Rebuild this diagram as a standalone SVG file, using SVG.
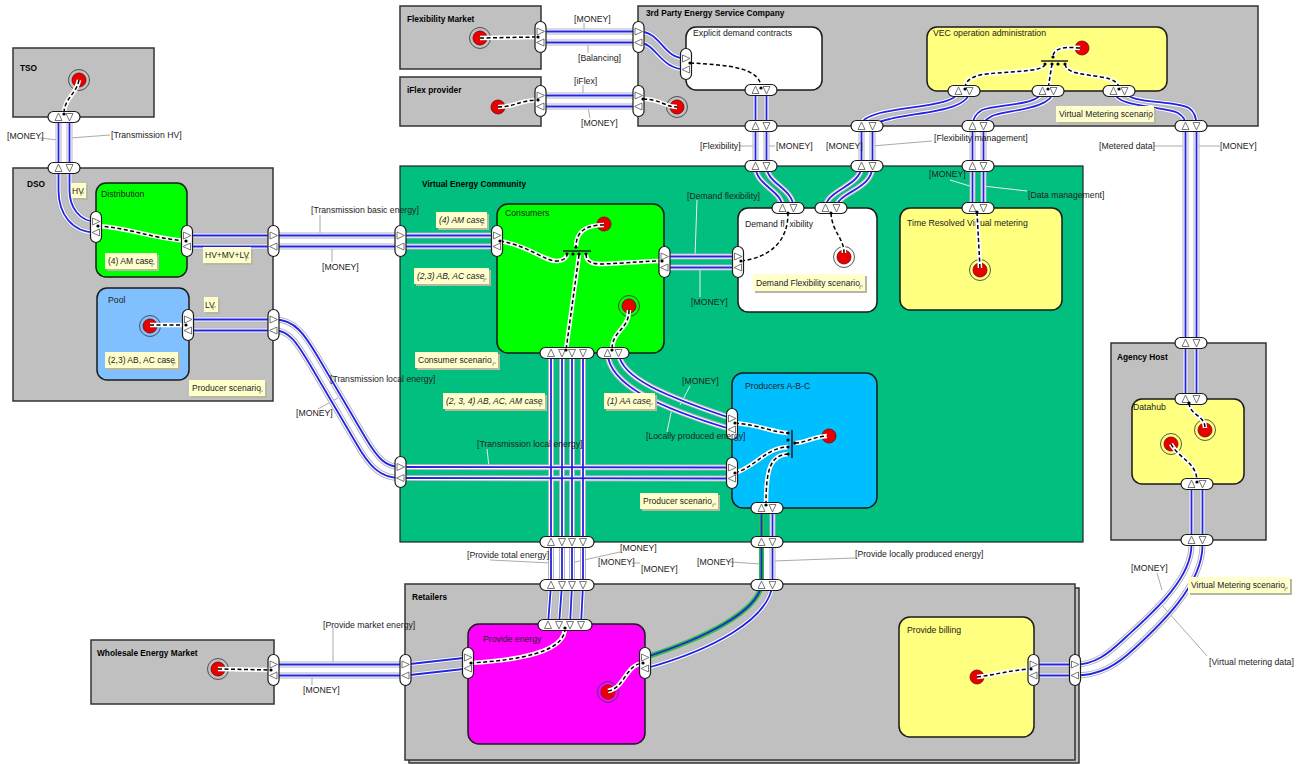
<svg xmlns="http://www.w3.org/2000/svg" width="1300" height="764" viewBox="0 0 1300 764">
<style>
text{font-family:"Liberation Sans",Arial,sans-serif;font-size:8.7px;fill:#222}
.t{font-weight:bold;font-size:8.3px;fill:#000}
.nt{font-size:8.5px}
.i{font-style:italic}
.box{fill:#c0c0c0;stroke:#333;stroke-width:1.5}
.nd{stroke:#1a1a1a;stroke-width:1.5}
.port{fill:#fff;stroke:#1a1a1a;stroke-width:1.2}
.tri{fill:#fff;stroke:#555;stroke-width:.8}
.ho{fill:none;stroke:#b4b4c8;stroke-width:6}
.hw{fill:none;stroke:#fff;stroke-width:4}
.fl{fill:none;stroke:#2424e0;stroke-width:1.8}
.gh{fill:none;stroke:#2fbf3f;stroke-width:5}
.dh{fill:none;stroke:#fff;stroke-width:4.5}
.dl{fill:none;stroke:#000;stroke-width:1.5;stroke-dasharray:4 2.5}
.ld{fill:none;stroke:#aaa;stroke-width:1}
.lw{fill:none;stroke:#eee;stroke-width:1}
.note{fill:#ffffcc}
.nsh{fill:#b8b8a0}
.nc{fill:none;stroke:#888;stroke-width:.8}
.red{fill:#e80000;stroke:#700;stroke-width:.8}
.ring{fill:none;stroke:#444;stroke-width:.9}
.bar{stroke:#222;stroke-width:1.6}
</style>
<defs>
<path id="aR" class="tri" d="M-3.5,-3.5 L4,0 L-3.5,3.5Z"/>
<path id="aL" class="tri" d="M3.5,-3.5 L-4,0 L3.5,3.5Z"/>
<path id="aU" class="tri" d="M-3.5,3.5 L0,-4 L3.5,3.5Z"/>
<path id="aD" class="tri" d="M-3.5,-3.5 L0,4 L3.5,-3.5Z"/>
<path id="c1" d="M58.5,117 L58.5,190 C58.5,214 72,232.5 96,232.5"/>
<path id="c2" d="M69.5,117 L69.5,190 C69.5,208 80,221.5 96,221.5"/>
<path id="c3" d="M187,235.5 L497,235.5"/>
<path id="c4" d="M187,246.5 L497,246.5"/>
<path id="c5" d="M188,319.5 L275,319.5 C295,319.5 305,335 318,357 L365,437 C378,459 386,467 400,467 L732,467.5"/>
<path id="c6" d="M188,330.5 L275,330.5 C290,330.5 298,345 309,363 L356,443 C369,466 380,478 400,478 L732,478.5"/>
<path id="c8" d="M607.5,353 C609,385 660,408 732,429.5"/>
<path id="c9" d="M618.5,353 C621,378 665,396 732,418.5"/>
<path id="c10a" d="M551,353 L551,585 L548,625"/>
<path id="c10b" d="M562,353 L562,585 L559,625"/>
<path id="c10c" d="M572,353 L572,585 L570,625"/>
<path id="c10d" d="M583,353 L583,585 L581,625"/>
<path id="c11a" d="M664.5,256.5 L738,256.5"/>
<path id="c11b" d="M664.5,267.5 L738,267.5"/>
<path id="c12" d="M761.5,508 L761.5,585 C757,612 705,638 645,657.5"/>
<path id="c13" d="M772.5,508 L772.5,585 C768,620 712,650 645,668.5"/>
<path id="c14a" d="M273.5,664.5 L405.5,664.5 L468,657.5"/>
<path id="c14b" d="M273.5,675.5 L405.5,675.5 L468,668.5"/>
<path id="c15a" d="M1191.5,484 L1191.5,545 C1191.5,580 1150,615 1125,638 C1108,654 1095,664.5 1075,664.5 L1033,664.5"/>
<path id="c15b" d="M1202.5,484 L1202.5,545 C1202.5,585 1160,625 1135,648 C1117,665 1100,675.5 1075,675.5 L1033,675.5"/>
<path id="c16a" d="M1185.5,126 L1185.5,399"/>
<path id="c16b" d="M1196.5,126 L1196.5,399"/>
<path id="c17a" d="M1113.5,91 C1115,108 1165,106 1178,113 C1184,117 1185.5,120 1185.5,126"/>
<path id="c17b" d="M1124.5,91 C1126,104 1175,100 1189,108 C1195,112 1196.5,118 1196.5,126"/>
<path id="c18a" d="M1042.5,91 C1041,106 995,104 982,110 C975,114 972.5,119 972.5,126 L972.5,208"/>
<path id="c18b" d="M1053.5,91 C1052,110 1005,110 992,116 C985,120 983.5,122 983.5,126 L983.5,208"/>
<path id="c19a" d="M958.5,91 C958,106 905,106 880,113 C866,117 861.5,120 861.5,126 L861.5,166 C861.5,186 825.5,190 825.5,208"/>
<path id="c19b" d="M969.5,91 C969,112 915,112 890,119 C876,122 872.5,125 872.5,130 L872.5,166 C872.5,190 836.5,192 836.5,208"/>
<path id="c20a" d="M755.5,90 L755.5,166 C755.5,186 782.5,190 782.5,208"/>
<path id="c20b" d="M766.5,90 L766.5,166 C766.5,184 793.5,188 793.5,208"/>
<path id="c21a" d="M540.5,31.5 L638.5,31.5 C662,31.5 662,58.5 686,58.5"/>
<path id="c21b" d="M540.5,42.5 L638.5,42.5 C656,42.5 660,69.5 686,69.5"/>
<path id="c22a" d="M540.5,95.5 L638.5,95.5"/>
<path id="c22b" d="M540.5,106.5 L638.5,106.5"/>
<path id="d1" d="M79,80 C76,95 64,98 64,114"/>
<path id="d2" d="M98,226 C130,228 150,238 186,241"/>
<path id="d3" d="M150,325 L186,325"/>
<path id="d4" d="M604,225 C585,225 576,232 576,247"/>
<path id="d5" d="M500,241 C530,246 545,262 558,261 C565,260 567,257 567,254"/>
<path id="d6" d="M586,254 C586,262 592,264 602,264 C630,263 645,261 662,261"/>
<path id="d7" d="M579,255 L566,350"/>
<path id="d8" d="M629,310 C629,330 612,330 612,350"/>
<path id="d9" d="M741,261 C772,257 788,240 788,213"/>
<path id="d10" d="M831,213 C832,232 844,238 844,253"/>
<path id="d11" d="M735,423 C760,425 775,433 788,433"/>
<path id="d12" d="M735,473 C757,466 765,448 788,447"/>
<path id="d13" d="M766,505 C766,470 770,455 788,454"/>
<path id="d14" d="M795,443 C805,443 812,437 827,436"/>
<path id="d15" d="M565,628 C565,652 520,660 471,663"/>
<path id="d16" d="M608,691 C625,688 625,665 643,663"/>
<path id="d17" d="M218,669 L271,670"/>
<path id="d18" d="M977,677 C995,675 1010,670 1031,669"/>
<path id="d19" d="M1189,403 C1190,416 1205,415 1205,428"/>
<path id="d20" d="M1171,444 C1180,460 1197,462 1197,482"/>
<path id="d21" d="M977,212 L980,268"/>
<path id="d22" d="M1080,48 C1060,46 1053,50 1053,57"/>
<path id="d23" d="M1045,64 C1045,73 1000,71 980,75 C969,78 965,82 965,89"/>
<path id="d24" d="M1052,64 L1048,89"/>
<path id="d25" d="M1065,64 C1066,74 1085,74 1101,77 C1114,79 1119,83 1119,89"/>
<path id="d26" d="M690,63 C730,65 761,68 761,88"/>
<path id="d27" d="M480,38 L538,37"/>
<path id="d28" d="M498,107 C515,107 520,100 538,100"/>
<path id="d29" d="M643,99 C660,99 665,107 677,107"/>
</defs>
<rect width="1300" height="764" fill="#fff"/>

<!-- containers -->
<g id="tso"><rect class="box" x="13" y="48" width="141" height="69"/><text class="t" x="20" y="71">TSO</text>
<circle class="ring" cx="79" cy="80" r="10.5"/><circle class="red" cx="79" cy="80" r="7"/></g>
<g id="dso"><rect class="box" x="13" y="168" width="260" height="233"/><text class="t" x="27" y="187">DSO</text></g>
<g id="distribution"><rect class="nd" x="96" y="183" width="91" height="94" rx="10" fill="#00ff00"/><text x="101" y="197">Distribution</text></g>
<g id="pool"><rect class="nd" x="97" y="288" width="92" height="92" rx="10" fill="#80c0ff"/><text x="108" y="303">Pool</text>
<circle class="ring" cx="150" cy="326" r="10.5"/><circle class="red" cx="150" cy="326" r="7"/></g>
<g id="flexmarket"><rect class="box" x="400" y="6" width="141" height="63"/><text class="t" x="407" y="22">Flexibility Market</text>
<circle class="ring" cx="480" cy="38" r="10.5"/><circle class="red" cx="480" cy="38" r="7"/></g>
<g id="iflex"><rect class="box" x="400" y="77" width="141" height="49"/><text class="t" x="407" y="93">iFlex provider</text>
<circle class="red" cx="498" cy="107" r="7"/></g>
<g id="esco"><rect class="box" x="638" y="6" width="620" height="120"/><text class="t" x="646" y="16">3rd Party Energy Service Company</text>
<circle class="ring" cx="677" cy="107" r="10.5"/><circle class="red" cx="677" cy="107" r="7"/></g>
<g id="explicit"><rect class="nd" x="686" y="27" width="136" height="63" rx="10" fill="#fff"/><text x="693" y="36">Explicit demand contracts</text></g>
<g id="vecop"><rect class="nd" x="927" y="27" width="240" height="64" rx="10" fill="#ffff80"/><text x="933" y="36">VEC operation administration</text>
<circle class="red" cx="1082" cy="48" r="7"/></g>
<g id="vec"><rect x="400" y="166" width="683" height="376" fill="#00bf7f" stroke="#222" stroke-width="1.2"/><text class="t" x="422" y="187">Virtual Energy Community</text></g>
<g id="consumers"><rect class="nd" x="497" y="204" width="167" height="149" rx="11" fill="#00ff00"/><text x="505" y="216">Consumers</text>
<circle class="red" cx="604" cy="224" r="7"/><circle class="ring" cx="629" cy="306" r="10.5"/><circle class="red" cx="629" cy="306" r="7"/></g>
<g id="demandflex"><rect class="nd" x="738" y="208" width="139" height="104" rx="10" fill="#fff"/><text x="745" y="227">Demand flexibility</text>
<circle class="ring" cx="844" cy="257" r="10.5"/><circle class="red" cx="844" cy="257" r="7"/></g>
<g id="trvm"><rect class="nd" x="900" y="208" width="162" height="102" rx="10" fill="#ffff80"/><text x="907" y="226">Time Resolved Virtual metering</text>
<circle class="ring" cx="980" cy="270" r="10.5"/><circle class="red" cx="980" cy="270" r="7"/></g>
<g id="producers"><rect class="nd" x="732" y="373" width="145" height="135" rx="11" fill="#00bfff"/><text x="745" y="389">Producers A-B-C</text>
<circle class="red" cx="829" cy="436" r="7"/></g>
<g id="agency"><rect class="box" x="1111" y="343" width="155" height="197"/><text class="t" x="1117" y="360">Agency Host</text></g>
<g id="datahub"><rect class="nd" x="1132" y="399" width="112" height="85" rx="10" fill="#ffff80"/><text x="1133" y="410">Datahub</text>
<circle class="ring" cx="1205" cy="430" r="10.5"/><circle class="red" cx="1205" cy="430" r="7"/>
<circle class="ring" cx="1171" cy="444" r="10.5"/><circle class="red" cx="1171" cy="444" r="7"/></g>
<g id="retailers"><rect class="box" x="409" y="588" width="670" height="175"/><rect class="box" x="405" y="584" width="670" height="176"/><text class="t" x="412" y="600">Retailers</text></g>
<g id="provenergy"><rect class="nd" x="468" y="624" width="177" height="120" rx="11" fill="#ff00ff"/><text x="483" y="642">Provide energy</text>
<circle class="ring" cx="608" cy="692" r="10.5"/><circle class="red" cx="608" cy="692" r="7"/></g>
<g id="billing"><rect class="nd" x="899" y="617" width="135" height="120" rx="11" fill="#ffff80"/><text x="907" y="633">Provide billing</text>
<circle class="red" cx="977" cy="677" r="7"/></g>
<g id="wholesale"><rect class="box" x="91" y="640" width="183" height="64"/><text class="t" x="97" y="656">Wholesale Energy Market</text>
<circle class="ring" cx="218" cy="669" r="10.5"/><circle class="red" cx="218" cy="669" r="7"/></g>

<!-- leader lines -->
<g id="leaders">
<path class="ld" d="M40,138 L58,140 M70,138 L110,135 M320,215 L320,235 M332,262 L332,247 M318,409 L338,398 M584,23 L584,31 M588,53 L588,43 M583,85 L583,95 M590,118 L588,107 M739,146 L755,146 M767,146 L775,146 M932,141 L872,146 M1154,146 L1185,146 M1197,146 L1220,146 M490,560 L551,563 M620,552 L575,562 M632,563 L640,563 M730,562 L761,564 M773,561 L855,558 M333,628 L333,664 M312,685 L312,676 M1157,573 L1162,590 M1207,656 L1160,603"/>
<path class="lw" d="M950,180 L973,187 M1027,191 L983,186 M697,200 L695,256 M700,297 L700,268 M690,386 L680,405 M667,432 L672,408 M487,449 L489,467"/>
</g>

<g id="connectors">
<g class="ho"><use href="#c1"/><use href="#c2"/><use href="#c3"/><use href="#c4"/><use href="#c5"/><use href="#c6"/><use href="#c8"/><use href="#c9"/><use href="#c10a"/><use href="#c10b"/><use href="#c10c"/><use href="#c10d"/><use href="#c11a"/><use href="#c11b"/><use href="#c13"/><use href="#c14a"/><use href="#c14b"/><use href="#c15a"/><use href="#c15b"/><use href="#c16a"/><use href="#c16b"/><use href="#c17a"/><use href="#c17b"/><use href="#c18a"/><use href="#c18b"/><use href="#c19a"/><use href="#c19b"/><use href="#c20a"/><use href="#c20b"/><use href="#c21a"/><use href="#c21b"/><use href="#c22a"/><use href="#c22b"/></g>
<g class="hw"><use href="#c1"/><use href="#c2"/><use href="#c3"/><use href="#c4"/><use href="#c5"/><use href="#c6"/><use href="#c8"/><use href="#c9"/><use href="#c10a"/><use href="#c10b"/><use href="#c10c"/><use href="#c10d"/><use href="#c11a"/><use href="#c11b"/><use href="#c13"/><use href="#c14a"/><use href="#c14b"/><use href="#c15a"/><use href="#c15b"/><use href="#c16a"/><use href="#c16b"/><use href="#c17a"/><use href="#c17b"/><use href="#c18a"/><use href="#c18b"/><use href="#c19a"/><use href="#c19b"/><use href="#c20a"/><use href="#c20b"/><use href="#c21a"/><use href="#c21b"/><use href="#c22a"/><use href="#c22b"/></g>
<g class="gh"><use href="#c12"/></g>
<g class="fl"><use href="#c1"/><use href="#c2"/><use href="#c3"/><use href="#c4"/><use href="#c5"/><use href="#c6"/><use href="#c8"/><use href="#c9"/><use href="#c10a"/><use href="#c10b"/><use href="#c10c"/><use href="#c10d"/><use href="#c11a"/><use href="#c11b"/><use href="#c12"/><use href="#c13"/><use href="#c14a"/><use href="#c14b"/><use href="#c15a"/><use href="#c15b"/><use href="#c16a"/><use href="#c16b"/><use href="#c17a"/><use href="#c17b"/><use href="#c18a"/><use href="#c18b"/><use href="#c19a"/><use href="#c19b"/><use href="#c20a"/><use href="#c20b"/><use href="#c21a"/><use href="#c21b"/><use href="#c22a"/><use href="#c22b"/></g>
<g class="dh"><use href="#d1"/><use href="#d2"/><use href="#d3"/><use href="#d4"/><use href="#d5"/><use href="#d6"/><use href="#d7"/><use href="#d8"/><use href="#d9"/><use href="#d10"/><use href="#d11"/><use href="#d12"/><use href="#d13"/><use href="#d14"/><use href="#d15"/><use href="#d16"/><use href="#d17"/><use href="#d18"/><use href="#d19"/><use href="#d20"/><use href="#d21"/><use href="#d22"/><use href="#d23"/><use href="#d24"/><use href="#d25"/><use href="#d26"/><use href="#d27"/><use href="#d28"/><use href="#d29"/></g>
<g class="dl"><use href="#d1"/><use href="#d2"/><use href="#d3"/><use href="#d4"/><use href="#d5"/><use href="#d6"/><use href="#d7"/><use href="#d8"/><use href="#d9"/><use href="#d10"/><use href="#d11"/><use href="#d12"/><use href="#d13"/><use href="#d14"/><use href="#d15"/><use href="#d16"/><use href="#d17"/><use href="#d18"/><use href="#d19"/><use href="#d20"/><use href="#d21"/><use href="#d22"/><use href="#d23"/><use href="#d24"/><use href="#d25"/><use href="#d26"/><use href="#d27"/><use href="#d28"/><use href="#d29"/></g>
</g>

<!-- junction bars -->
<g id="junctions">
<path class="bar" d="M563,251 L591,251 M792,430 L792,458 M1041,61 L1068,61"/>
<g fill="#000">
<circle cx="567" cy="254" r="1.6"/><circle cx="573" cy="254" r="1.6"/><circle cx="579" cy="254" r="1.6"/><circle cx="586" cy="254" r="1.6"/><circle cx="576" cy="247" r="1.6"/>
<circle cx="788" cy="433" r="1.6"/><circle cx="788" cy="440" r="1.6"/><circle cx="788" cy="447" r="1.6"/><circle cx="788" cy="454" r="1.6"/><circle cx="795" cy="443" r="1.6"/>
<circle cx="1045" cy="64" r="1.6"/><circle cx="1052" cy="64" r="1.6"/><circle cx="1058" cy="64" r="1.6"/><circle cx="1065" cy="64" r="1.6"/><circle cx="1053" cy="57" r="1.6"/>
</g></g>

<g id="ports">
<g class="port">
<rect x="535" y="21.5" width="11" height="31" rx="5.5"/><rect x="633" y="21.5" width="11" height="31" rx="5.5"/>
<rect x="535" y="85.5" width="11" height="31" rx="5.5"/><rect x="633" y="85.5" width="11" height="31" rx="5.5"/>
<rect x="680.5" y="48.5" width="11" height="31" rx="5.5"/>
<rect x="90.5" y="211.5" width="11" height="31" rx="5.5"/><rect x="181.5" y="225.5" width="11" height="31" rx="5.5"/>
<rect x="268" y="225.5" width="11" height="31" rx="5.5"/><rect x="395" y="225.5" width="11" height="31" rx="5.5"/>
<rect x="491.5" y="225.5" width="11" height="31" rx="5.5"/><rect x="182.5" y="309.5" width="11" height="31" rx="5.5"/>
<rect x="268" y="309.5" width="11" height="31" rx="5.5"/><rect x="395" y="456.5" width="11" height="31" rx="5.5"/>
<rect x="726.5" y="457.5" width="11" height="31" rx="5.5"/><rect x="726.5" y="408.5" width="11" height="31" rx="5.5"/>
<rect x="659" y="246.5" width="11" height="31" rx="5.5"/><rect x="732.5" y="246.5" width="11" height="31" rx="5.5"/>
<rect x="268" y="654.5" width="11" height="31" rx="5.5"/><rect x="400" y="654.5" width="11" height="31" rx="5.5"/>
<rect x="462.5" y="647.5" width="11" height="31" rx="5.5"/><rect x="639.5" y="647.5" width="11" height="31" rx="5.5"/>
<rect x="1028" y="654.5" width="11" height="31" rx="5.5"/><rect x="1069.5" y="654.5" width="11" height="31" rx="5.5"/>
<rect x="48" y="111.5" width="32" height="11" rx="5.5"/><rect x="48" y="162.5" width="32" height="11" rx="5.5"/>
<rect x="745" y="84.5" width="32" height="11" rx="5.5"/><rect x="745" y="120.5" width="32" height="11" rx="5.5"/>
<rect x="851" y="120.5" width="32" height="11" rx="5.5"/><rect x="962" y="120.5" width="32" height="11" rx="5.5"/>
<rect x="1175" y="120.5" width="32" height="11" rx="5.5"/><rect x="948" y="85.5" width="32" height="11" rx="5.5"/>
<rect x="1032" y="85.5" width="32" height="11" rx="5.5"/><rect x="1103" y="85.5" width="32" height="11" rx="5.5"/>
<rect x="745" y="160.5" width="32" height="11" rx="5.5"/><rect x="851" y="160.5" width="32" height="11" rx="5.5"/>
<rect x="962" y="160.5" width="32" height="11" rx="5.5"/><rect x="772" y="202.5" width="32" height="11" rx="5.5"/>
<rect x="815" y="202.5" width="32" height="11" rx="5.5"/><rect x="962" y="202.5" width="32" height="11" rx="5.5"/>
<rect x="1175" y="337.5" width="32" height="11" rx="5.5"/><rect x="1175" y="393.5" width="32" height="11" rx="5.5"/>
<rect x="1181" y="478.5" width="32" height="11" rx="5.5"/><rect x="1181" y="534.5" width="32" height="11" rx="5.5"/>
<rect x="751" y="502.5" width="32" height="11" rx="5.5"/><rect x="751" y="536.5" width="32" height="11" rx="5.5"/>
<rect x="751" y="579.5" width="32" height="11" rx="5.5"/><rect x="597" y="347.5" width="32" height="11" rx="5.5"/>
<rect x="540" y="347.5" width="54" height="11" rx="5.5"/><rect x="540" y="536.5" width="54" height="11" rx="5.5"/>
<rect x="540" y="579.5" width="54" height="11" rx="5.5"/><rect x="538" y="619.5" width="54" height="11" rx="5.5"/>
</g>
<use href="#aR" x="540.5" y="31.5"/><use href="#aL" x="540.5" y="42.5"/><use href="#aR" x="638.5" y="31.5"/><use href="#aL" x="638.5" y="42.5"/>
<use href="#aR" x="540.5" y="95.5"/><use href="#aL" x="540.5" y="106.5"/><use href="#aR" x="638.5" y="95.5"/><use href="#aL" x="638.5" y="106.5"/>
<use href="#aR" x="686" y="58.5"/><use href="#aL" x="686" y="69.5"/>
<use href="#aR" x="96" y="221.5"/><use href="#aL" x="96" y="232.5"/>
<use href="#aR" x="187" y="235.5"/><use href="#aL" x="187" y="246.5"/><use href="#aR" x="273.5" y="235.5"/><use href="#aL" x="273.5" y="246.5"/>
<use href="#aR" x="400.5" y="235.5"/><use href="#aL" x="400.5" y="246.5"/><use href="#aR" x="497" y="235.5"/><use href="#aL" x="497" y="246.5"/>
<use href="#aR" x="188" y="319.5"/><use href="#aL" x="188" y="330.5"/><use href="#aR" x="273.5" y="319.5"/><use href="#aL" x="273.5" y="330.5"/>
<use href="#aR" x="400.5" y="467"/><use href="#aL" x="400.5" y="478"/><use href="#aR" x="732" y="467.5"/><use href="#aL" x="732" y="478.5"/>
<use href="#aR" x="732" y="418.5"/><use href="#aL" x="732" y="429.5"/>
<use href="#aR" x="664.5" y="256.5"/><use href="#aL" x="664.5" y="267.5"/><use href="#aR" x="738" y="256.5"/><use href="#aL" x="738" y="267.5"/>
<use href="#aR" x="273.5" y="664.5"/><use href="#aL" x="273.5" y="675.5"/><use href="#aR" x="405.5" y="664.5"/><use href="#aL" x="405.5" y="675.5"/>
<use href="#aR" x="468" y="657.5"/><use href="#aL" x="468" y="668.5"/><use href="#aR" x="645" y="657.5"/><use href="#aL" x="645" y="668.5"/>
<use href="#aR" x="1033.5" y="664.5"/><use href="#aL" x="1033.5" y="675.5"/><use href="#aR" x="1075" y="664.5"/><use href="#aL" x="1075" y="675.5"/>
<use href="#aU" x="58.5" y="117"/><use href="#aD" x="69.5" y="117"/><use href="#aU" x="58.5" y="168"/><use href="#aD" x="69.5" y="168"/>
<use href="#aU" x="755.5" y="90"/><use href="#aD" x="766.5" y="90"/><use href="#aU" x="755.5" y="126"/><use href="#aD" x="766.5" y="126"/>
<use href="#aU" x="861.5" y="126"/><use href="#aD" x="872.5" y="126"/><use href="#aU" x="972.5" y="126"/><use href="#aD" x="983.5" y="126"/>
<use href="#aU" x="1185.5" y="126"/><use href="#aD" x="1196.5" y="126"/>
<use href="#aU" x="958.5" y="91"/><use href="#aD" x="969.5" y="91"/><use href="#aU" x="1042.5" y="91"/><use href="#aD" x="1053.5" y="91"/>
<use href="#aU" x="1113.5" y="91"/><use href="#aD" x="1124.5" y="91"/>
<use href="#aU" x="755.5" y="166"/><use href="#aD" x="766.5" y="166"/><use href="#aU" x="861.5" y="166"/><use href="#aD" x="872.5" y="166"/>
<use href="#aU" x="972.5" y="166"/><use href="#aD" x="983.5" y="166"/>
<use href="#aU" x="782.5" y="208"/><use href="#aD" x="793.5" y="208"/><use href="#aU" x="825.5" y="208"/><use href="#aD" x="836.5" y="208"/>
<use href="#aU" x="972.5" y="208"/><use href="#aD" x="983.5" y="208"/>
<use href="#aU" x="1185.5" y="343"/><use href="#aD" x="1196.5" y="343"/><use href="#aU" x="1185.5" y="399"/><use href="#aD" x="1196.5" y="399"/>
<use href="#aU" x="1191.5" y="484"/><use href="#aD" x="1202.5" y="484"/><use href="#aU" x="1191.5" y="540"/><use href="#aD" x="1202.5" y="540"/>
<use href="#aU" x="761.5" y="508"/><use href="#aD" x="772.5" y="508"/><use href="#aU" x="761.5" y="542"/><use href="#aD" x="772.5" y="542"/>
<use href="#aU" x="761.5" y="585"/><use href="#aD" x="772.5" y="585"/>
<use href="#aU" x="607.5" y="353"/><use href="#aD" x="618.5" y="353"/>
<use href="#aU" x="551" y="353"/><use href="#aD" x="562" y="353"/><use href="#aD" x="572" y="353"/><use href="#aD" x="583" y="353"/>
<use href="#aU" x="551" y="542"/><use href="#aD" x="562" y="542"/><use href="#aD" x="572" y="542"/><use href="#aD" x="583" y="542"/>
<use href="#aU" x="551" y="585"/><use href="#aD" x="562" y="585"/><use href="#aD" x="572" y="585"/><use href="#aD" x="583" y="585"/>
<use href="#aU" x="548" y="625"/><use href="#aD" x="559" y="625"/><use href="#aD" x="570" y="625"/><use href="#aD" x="581" y="625"/>
<g fill="#000">
<circle cx="64" cy="114" r="1.6"/><circle cx="98" cy="226" r="1.6"/><circle cx="186" cy="241" r="1.6"/><circle cx="186" cy="325" r="1.6"/>
<circle cx="500" cy="241" r="1.6"/><circle cx="662" cy="261" r="1.6"/><circle cx="566" cy="350" r="1.6"/><circle cx="612" cy="350" r="1.6"/>
<circle cx="741" cy="261" r="1.6"/><circle cx="788" cy="213" r="1.6"/><circle cx="831" cy="213" r="1.6"/><circle cx="735" cy="423" r="1.6"/>
<circle cx="735" cy="473" r="1.6"/><circle cx="766" cy="505" r="1.6"/><circle cx="565" cy="628" r="1.6"/><circle cx="471" cy="663" r="1.6"/>
<circle cx="643" cy="663" r="1.6"/><circle cx="271" cy="670" r="1.6"/><circle cx="1031" cy="669" r="1.6"/><circle cx="1189" cy="403" r="1.6"/>
<circle cx="1197" cy="482" r="1.6"/><circle cx="977" cy="212" r="1.6"/><circle cx="965" cy="89" r="1.6"/><circle cx="1048" cy="89" r="1.6"/>
<circle cx="1119" cy="89" r="1.6"/><circle cx="690" cy="63" r="1.6"/><circle cx="761" cy="88" r="1.6"/><circle cx="538" cy="37" r="1.6"/>
<circle cx="538" cy="100" r="1.6"/><circle cx="643" cy="99" r="1.6"/>
</g>
</g>

<g id="notes">
<g><rect class="nsh" x="73" y="185" width="15" height="15"/><rect class="note" x="71" y="183" width="15" height="15"/><text class="nt" x="72" y="194">HV</text><path class="nc" d="M81,196 v-3 h3"/></g>
<g><rect class="nsh" x="107" y="255" width="52" height="16"/><rect class="note" x="105" y="253" width="52" height="16"/><text class="nt" x="108" y="264">(4) AM case</text><path class="nc" d="M152,267 v-3 h3"/></g>
<g><rect class="nsh" x="205" y="249" width="48" height="16"/><rect class="note" x="203" y="247" width="48" height="16"/><text class="nt" x="205" y="258">HV+MV+LV</text><path class="nc" d="M246,261 v-3 h3"/></g>
<g><rect class="nsh" x="206" y="299" width="14" height="15"/><rect class="note" x="204" y="297" width="14" height="15"/><text class="nt" x="205" y="308">LV</text><path class="nc" d="M213,310 v-3 h3"/></g>
<g><rect class="nsh" x="107" y="354" width="73" height="16"/><rect class="note" x="105" y="352" width="73" height="16"/><text class="nt" x="108" y="363">(2,3) AB, AC case</text><path class="nc" d="M173,366 v-3 h3"/></g>
<g><rect class="nsh" x="191" y="382" width="76" height="16"/><rect class="note" x="189" y="380" width="76" height="16"/><text class="nt" x="192" y="391">Producer scenario</text><path class="nc" d="M260,394 v-3 h3"/></g>
<g><rect class="nsh" x="438" y="214" width="51" height="16"/><rect class="note" x="436" y="212" width="51" height="16"/><text class="nt i" x="439" y="223">(4) AM case</text><path class="nc" d="M482,226 v-3 h3"/></g>
<g><rect class="nsh" x="416" y="270" width="75" height="16"/><rect class="note" x="414" y="268" width="75" height="16"/><text class="nt i" x="417" y="279">(2,3) AB, AC case</text><path class="nc" d="M484,282 v-3 h3"/></g>
<g><rect class="nsh" x="417" y="354" width="83" height="16"/><rect class="note" x="415" y="352" width="83" height="16"/><text class="nt" x="418" y="363">Consumer scenario</text><path class="nc" d="M493,366 v-3 h3"/></g>
<g><rect class="nsh" x="445" y="395" width="102" height="16"/><rect class="note" x="443" y="393" width="102" height="16"/><text class="nt i" x="446" y="404">(2, 3, 4) AB, AC, AM case</text><path class="nc" d="M540,407 v-3 h3"/></g>
<g><rect class="nsh" x="606" y="395" width="51" height="16"/><rect class="note" x="604" y="393" width="51" height="16"/><text class="nt i" x="607" y="404">(1) AA case</text><path class="nc" d="M650,407 v-3 h3"/></g>
<g><rect class="nsh" x="642" y="495" width="78" height="16"/><rect class="note" x="640" y="493" width="78" height="16"/><text class="nt" x="643" y="504">Producer scenario</text><path class="nc" d="M713,507 v-3 h3"/></g>
<g><rect class="nsh" x="755" y="276" width="112" height="17"/><rect class="note" x="753" y="274" width="112" height="17"/><text class="nt" x="756" y="286">Demand Flexibility scenario</text><path class="nc" d="M860,289 v-3 h3"/></g>
<g><rect class="nsh" x="1058" y="108" width="98" height="16"/><rect class="note" x="1056" y="106" width="98" height="16"/><text class="nt" x="1059" y="117">Virtual Metering scenario</text><path class="nc" d="M1149,120 v-3 h3"/></g>
<g><rect class="nsh" x="1190" y="579" width="102" height="16"/><rect class="note" x="1188" y="577" width="102" height="16"/><text class="nt" x="1191" y="588">Virtual Metering scenario</text><path class="nc" d="M1285,591 v-3 h3"/></g>
</g>

<g id="labels">
<text x="7" y="139">[MONEY]</text>
<text x="111" y="138">[Transmission HV]</text>
<text x="311" y="213">[Transmission basic energy]</text>
<text x="322" y="270">[MONEY]</text>
<text x="330" y="382">[Transmission local energy]</text>
<text x="296" y="416">[MONEY]</text>
<text x="574" y="22">[MONEY]</text>
<text x="578" y="61">[Balancing]</text>
<text x="574" y="84">[iFlex]</text>
<text x="581" y="126">[MONEY]</text>
<text x="700" y="149">[Flexibility]</text>
<text x="776" y="149">[MONEY]</text>
<text x="826" y="149">[MONEY]</text>
<text x="934" y="141">[Flexibility management]</text>
<text x="1099" y="149">[Metered data]</text>
<text x="1220" y="149">[MONEY]</text>
<text x="929" y="177">[MONEY]</text>
<text x="1028" y="198">[Data management]</text>
<text x="687" y="199">[Demand flexibility]</text>
<text x="691" y="305">[MONEY]</text>
<text x="682" y="384">[MONEY]</text>
<text x="646" y="439">[Locally produced energy]</text>
<text x="477" y="447">[Transmission local energy]</text>
<text x="467" y="558">[Provide total energy]</text>
<text x="620" y="551">[MONEY]</text>
<text x="598" y="565">[MONEY]</text>
<text x="641" y="572">[MONEY]</text>
<text x="697" y="565">[MONEY]</text>
<text x="855" y="557">[Provide locally produced energy]</text>
<text x="323" y="628">[Provide market energy]</text>
<text x="303" y="693">[MONEY]</text>
<text x="1131" y="571">[MONEY]</text>
<text x="1209" y="665">[Virtual metering data]</text>
</g>
</svg>
